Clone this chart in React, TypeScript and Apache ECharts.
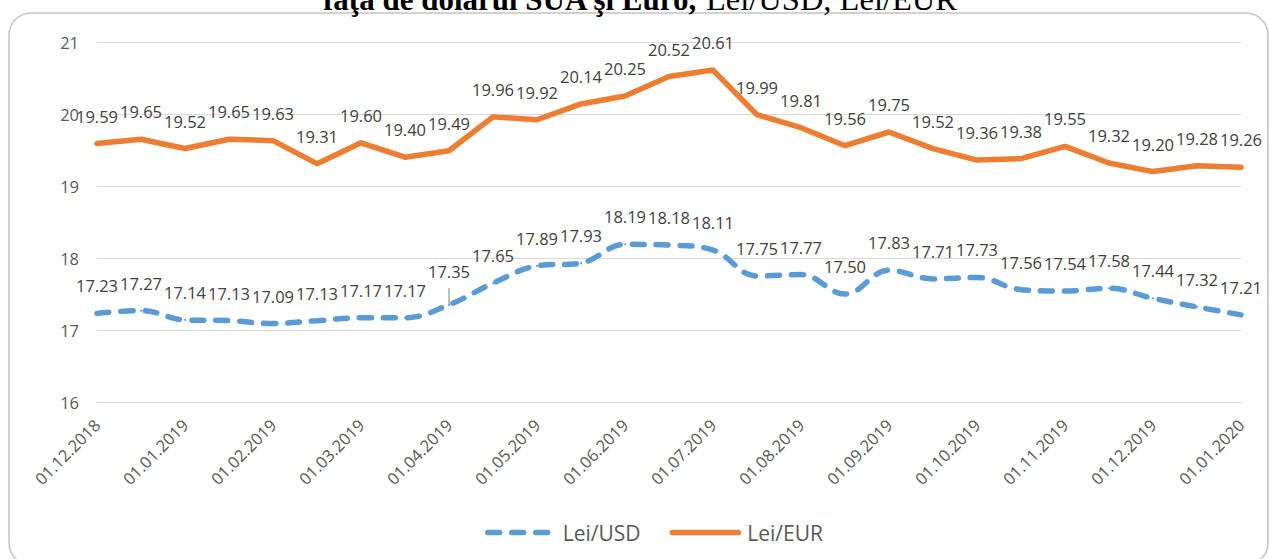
import React, { useEffect, useRef } from "react";
import * as echarts from "echarts";

const categories = [
  "01.12.2018", "15.12.2018", "01.01.2019", "15.01.2019", "01.02.2019", "15.02.2019",
  "01.03.2019", "15.03.2019", "01.04.2019", "15.04.2019", "01.05.2019", "15.05.2019",
  "01.06.2019", "15.06.2019", "01.07.2019", "15.07.2019", "01.08.2019", "15.08.2019",
  "01.09.2019", "15.09.2019", "01.10.2019", "15.10.2019", "01.11.2019", "15.11.2019",
  "01.12.2019", "15.12.2019", "01.01.2020",
];

const usdValues = [
  17.23, 17.27, 17.14, 17.13, 17.09, 17.13, 17.17, 17.17, 17.35, 17.65, 17.89, 17.93,
  18.19, 18.18, 18.11, 17.75, 17.77, 17.5, 17.83, 17.71, 17.73, 17.56, 17.54, 17.58,
  17.44, 17.32, 17.21,
];

const eurValues = [
  19.59, 19.65, 19.52, 19.65, 19.63, 19.31, 19.6, 19.4, 19.49, 19.96, 19.92, 20.14,
  20.25, 20.52, 20.61, 19.99, 19.81, 19.56, 19.75, 19.52, 19.36, 19.38, 19.55, 19.32,
  19.2, 19.28, 19.26,
];

const seriesNames = ["Lei/USD", "Lei/EUR"];
const titleBold = "faţa de dolarul SUA şi Euro,";
const titleNormal = "Lei/USD, Lei/EUR";

const FONT = "'Open Sans', sans-serif";
const TXT = "#404040";

export default function App() {
  const ref = useRef<HTMLDivElement>(null);
  useEffect(() => {
    if (!ref.current) return;
    const chart = echarts.init(ref.current, null, { renderer: "svg" });
    const label = {
      show: true,
      position: "top",
      distance: 18,
      fontFamily: FONT,
      fontSize: 16.5,
      color: TXT,
      formatter: (p: any) => Number(p.value).toFixed(2),
    };
    const usdData = usdValues.map((v, i) =>
      i === 8
        ? {
            value: v,
            label: { distance: 24 },
            labelLine: { show: true, lineStyle: { color: "#7f7f7f", width: 1 } },
          }
        : v
    );
    chart.setOption({
      animation: false,
      backgroundColor: "#ffffff",
      graphic: [
        {
          type: "rect",
          shape: { x: 9, y: 13, width: 1259, height: 552, r: 22 },
          style: { fill: "none", stroke: "#c4c4c4", lineWidth: 1.5 },
          silent: true,
          z: -1,
        },
        {
          type: "text",
          x: 323,
          y: -1,
          style: {
            text: titleBold,
            font: "bold 31px 'Liberation Serif', serif",
            fill: "#000",
            align: "left",
            verticalAlign: "middle",
          },
        },
        {
          type: "text",
          x: 706,
          y: -1.5,
          style: {
            text: titleNormal,
            font: "32.5px 'Liberation Serif', serif",
            fill: "#000",
            align: "left",
            verticalAlign: "middle",
          },
        },
      ],
      grid: { left: 97, right: 28, top: 42, bottom: 157, containLabel: false },
      legend: {
        data: seriesNames,
        left: 480,
        top: 517,
        itemWidth: 66,
        itemHeight: 2,
        itemGap: 29,
        lineStyle: { width: 5.5, cap: "round" },
        textStyle: { fontFamily: FONT, fontSize: 21, color: "#595959", padding: [0, 0, 0, 4] },
      },
      xAxis: {
        type: "category",
        data: categories,
        boundaryGap: false,
        axisLine: { lineStyle: { color: "#d9d9d9", width: 1 } },
        axisTick: { show: false },
        axisLabel: {
          interval: 1,
          rotate: 45,
          margin: 20,
          fontFamily: FONT,
          fontSize: 16.5,
          color: "#595959",
        },
        splitLine: { show: false },
      },
      yAxis: {
        type: "value",
        min: 16,
        max: 21,
        interval: 1,
        axisLine: { show: false },
        axisTick: { show: false },
        axisLabel: { margin: 18, fontFamily: FONT, fontSize: 16.5, color: "#595959" },
        splitLine: { lineStyle: { color: "#d9d9d9", width: 1 } },
      },
      series: [
        {
          name: seriesNames[0],
          type: "line",
          data: usdData,
          smooth: 0.4,
          symbol: "circle",
          symbolSize: 2,
          itemStyle: { color: "#5B9BD5" },
          lineStyle: { color: "#5B9BD5", width: 5.5, type: [12, 12], cap: "round" },
          label,
        },
        {
          name: seriesNames[1],
          type: "line",
          data: eurValues,
          smooth: false,
          symbol: "circle",
          symbolSize: 2,
          itemStyle: { color: "#ED7D31" },
          lineStyle: { color: "#ED7D31", width: 5.5, cap: "round", join: "round" },
          label,
        },
      ],
    });
    return () => chart.dispose();
  }, []);
  return (
    <div
      ref={ref}
      style={{ position: "fixed", left: 0, top: 0, width: 1269, height: 559, background: "#fff" }}
    />
  );
}
